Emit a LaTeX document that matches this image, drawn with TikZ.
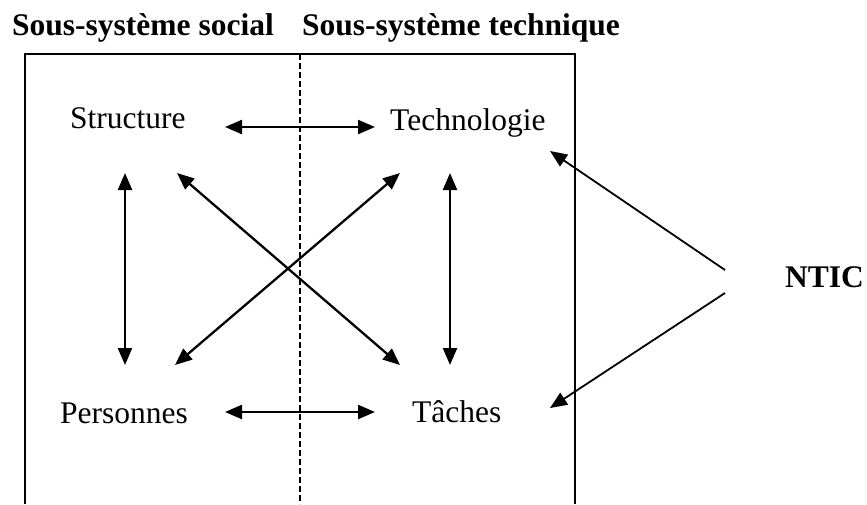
\documentclass[tikz,border=0pt]{standalone}
\usepackage{fontspec}
\setmainfont{Liberation Serif}
\usetikzlibrary{arrows.meta}

\begin{document}
\begin{tikzpicture}[x=1pt,y=-1pt,
  label/.style={inner sep=0pt,font=\fontsize{31.5}{36}\selectfont},
  title/.style={inner sep=0pt,font=\fontsize{31.5}{36}\selectfont\bfseries},
  link/.style={line width=2.3pt,{Triangle[length=17pt,width=14pt]}-{Triangle[length=17pt,width=14pt]}},
  push/.style={line width=1.8pt,-{Triangle[length=17pt,width=14pt]}},
  frame/.style={line width=2pt},
  divider/.style={line width=1.6pt,dash pattern=on 6pt off 3pt}]

\useasboundingbox (0,0) rectangle (867,504);

% headings of the two sub-systems
\node[title,anchor=base west] (social) at (12,35) {Sous-système social};
\node[title,anchor=base west] (tech) at (302,35) {Sous-système technique};

% open frame and the dashed divider between the two halves
\draw[frame] (25,504) -- (25,54) -- (575,54) -- (575,504);
\draw[divider] (300,54) -- (300,504);

% the four components
\node[label,anchor=base west] (st) at (70,128) {Structure};
\node[label,anchor=base west] (te) at (390,130) {Technologie};
\node[label,anchor=base west] (pe) at (60,423) {Personnes};
\node[label,anchor=base west] (ta) at (412,422) {Tâches};
\node[title,anchor=base west] (ntic) at (785,287) {NTIC};

% arrow end points
\coordinate (stR) at (225,127);
\coordinate (teL) at (375,127);
\coordinate (peR) at (225,412);
\coordinate (taL) at (375,412);
\coordinate (stB) at (125,173);
\coordinate (peT) at (125,365);
\coordinate (teB) at (450,173);
\coordinate (taT) at (450,365);
\coordinate (stD) at (177,173);
\coordinate (taD) at (400,365);
\coordinate (teD) at (400,173);
\coordinate (peD) at (175,365);
\coordinate (nticA) at (725,270);
\coordinate (nticB) at (725,293);
\coordinate (teN) at (550,151);
\coordinate (taN) at (550,408);

% mutual links
\draw[link] (stR) -- (teL);
\draw[link] (peR) -- (taL);
\draw[link] (stB) -- (peT);
\draw[link] (teB) -- (taT);
\draw[link] (stD) -- (taD);
\draw[link] (teD) -- (peD);

% influence of NTIC
\draw[push] (nticA) -- (teN);
\draw[push] (nticB) -- (taN);
\end{tikzpicture}
\end{document}
